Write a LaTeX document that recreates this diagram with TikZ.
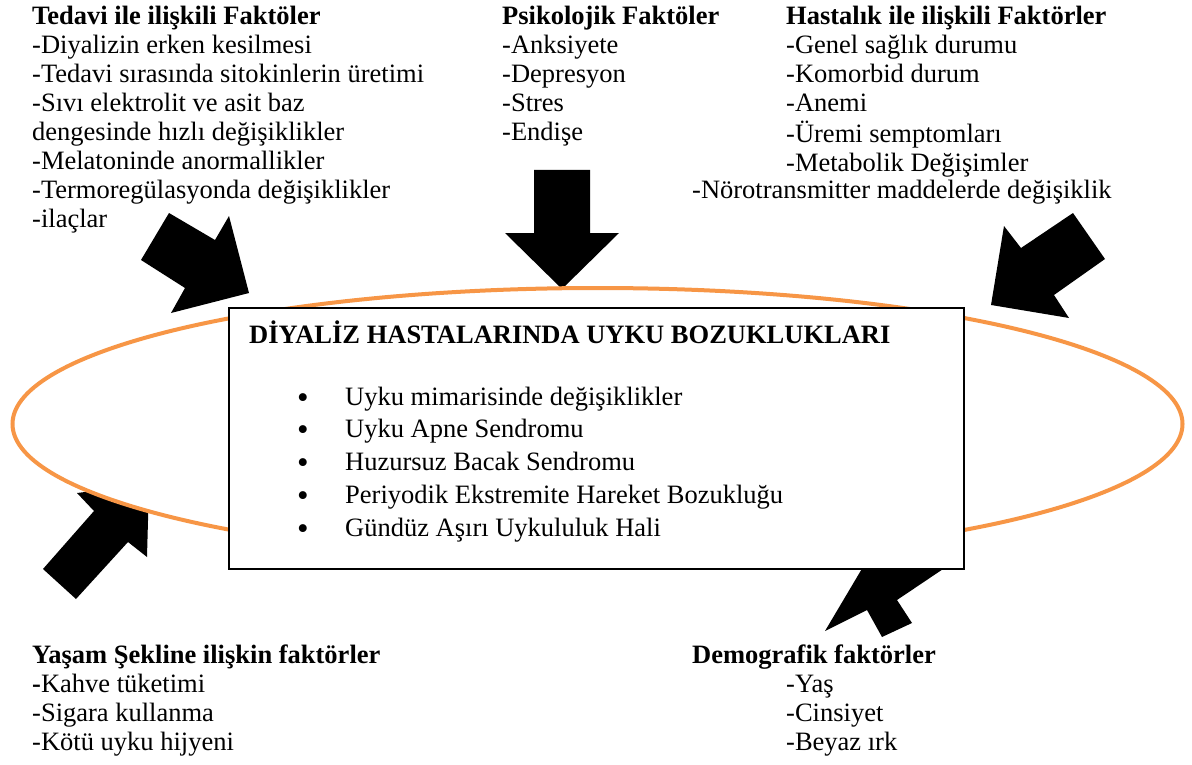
\documentclass[tikz,border=0pt]{standalone}
\usepackage{fontspec}
\setmainfont{Liberation Serif}
\usetikzlibrary{positioning}
\definecolor{ringorange}{HTML}{F79646}
% lines of a factor list, hung from the baseline of the first line
\newcommand{\factorlines}[1]{\begin{tabular}[t]{@{}l@{}}#1\end{tabular}}

\begin{document}
\begin{tikzpicture}[
    x=1pt, y=-1pt,
    font=\fontsize{26.5}{29}\selectfont,
    % Styles
    factor/.style={anchor=base west, inner sep=0},
    heading/.style={font=\fontsize{26.5}{29}\selectfont\bfseries},
    dot/.style={anchor=base, inner sep=0, font=\fontsize{33}{33}\selectfont},
    blockarrow/.style={fill=black},
    ring/.style={draw=ringorange, line width=4pt, fill=white},
    mainbox/.style={
        draw,
        line width=1.2pt,
        fill=white,
        minimum width=735pt,
        minimum height=261pt,
        inner sep=0
    }
]
    \useasboundingbox (0,0) rectangle (1192,765);

    % --- BLOCK ARROWS ---
    % Treatment
    \fill[blockarrow] (141,260) -- (169,213) -- (215,240) -- (229,216) -- (249,293) -- (171,313) -- (185,288) -- cycle;
    % Psychology
    \fill[blockarrow] (534,170) -- (590,170) -- (590,233) -- (619,233) -- (562,289) -- (505,233) -- (534,233) -- cycle;
    % Disease
    \fill[blockarrow] (1073,213) -- (1105,259) -- (1054,295) -- (1069,318) -- (991,305) -- (1004,226) -- (1021,248) -- cycle;
    % Lifestyle
    \fill[blockarrow] (43,569) -- (94,511) -- (77,493) -- (149,484) -- (147,557) -- (128,542) -- (76,599) -- cycle;
    % Demography
    \fill[blockarrow] (882,637) -- (867,610) -- (825,631) -- (879,540) -- (958,559) -- (897,600) -- (912,623) -- cycle;

    % --- RING AND MAIN BOX ---
    \draw[ring] (597.5,424) ellipse [x radius=585pt, y radius=136pt];
    \node[mainbox] (box) at (596.5,438.5) {};

    \node[factor, heading] (boxtitle) at (249,343) {DİYALİZ HASTALARINDA UYKU BOZUKLUKLARI};
    \foreach \txt [count=\i] in {Uyku mimarisinde değişiklikler, Uyku Apne Sendromu,
        Huzursuz Bacak Sendromu, Periyodik Ekstremite Hareket Bozukluğu,
        Gündüz Aşırı Uykululuk Hali} {
        \node[dot] (bullet\i) at ({303},{408+32.75*(\i-1)}) {•};
        \node[factor] (sleep\i) at ({345},{405+32.75*(\i-1)}) {\txt};
    }

    % --- FACTORS ---
    \node[factor] (treatment) at (32,25) {\factorlines{\textbf{Tedavi ile ilişkili Faktöler}\\
        -Diyalizin erken kesilmesi\\
        -Tedavi sırasında sitokinlerin üretimi\\
        -Sıvı elektrolit ve asit baz\\
        dengesinde hızlı değişiklikler\\
        -Melatoninde anormallikler\\
        -Termoregülasyonda değişiklikler\\
        -ilaçlar}};

    \node[factor] (psycho) at (502,25) {\factorlines{\textbf{Psikolojik Faktöler}\\
        -Anksiyete\\
        -Depresyon\\
        -Stres\\
        -Endişe}};

    \node[factor] (disease) at (786,25) {\factorlines{\textbf{Hastalık ile ilişkili Faktörler}\\
        -Genel sağlık durumu\\
        -Komorbid durum\\
        -Anemi\\
        -Üremi semptomları\\
        -Metabolik Değişimler}};
    \node[factor] (neuro) at (692,199) {-Nörotransmitter maddelerde değişiklik};

    \node[factor] (lifestyle) at (32,663) {\factorlines{\textbf{Yaşam Şekline ilişkin faktörler}\\
        \textbf{-}Kahve tüketimi\\
        -Sigara kullanma\\
        -Kötü uyku hijyeni}};

    \node[factor, heading] (demo) at (692,663) {Demografik faktörler};
    \node[factor] (demoitems) at (786,692) {\factorlines{-Yaş\\
        -Cinsiyet\\
        -Beyaz ırk}};

\end{tikzpicture}
\end{document}
